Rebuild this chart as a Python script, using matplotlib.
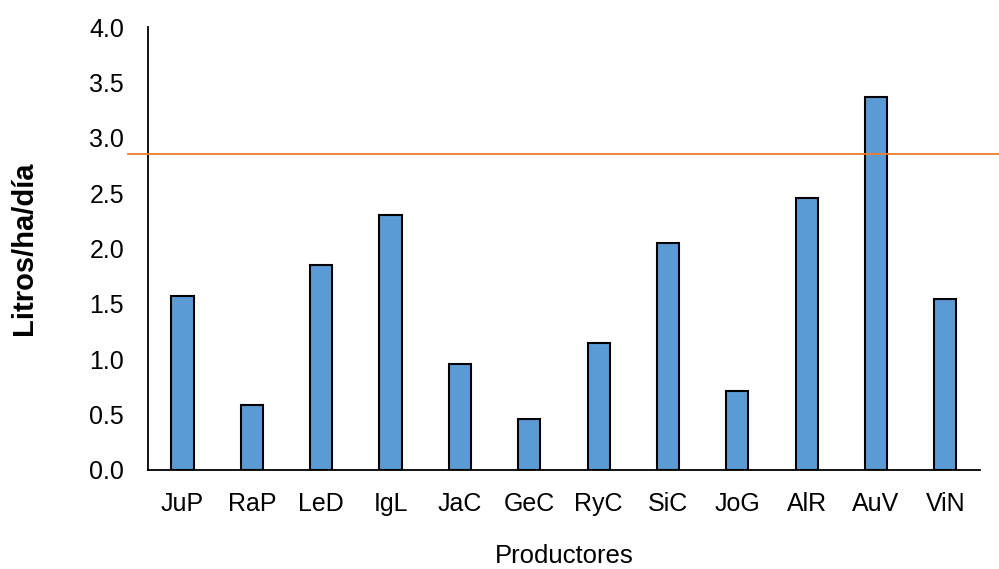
import matplotlib.pyplot as plt

productores = ['JuP', 'RaP', 'LeD', 'IgL', 'JaC', 'GeC', 'RyC', 'SiC', 'JoG', 'AlR', 'AuV', 'ViN']
litros = [1.57, 0.59, 1.85, 2.30, 0.96, 0.46, 1.15, 2.05, 0.71, 2.46, 3.37, 1.54]
promedio = 2.85

plt.rcParams['font.family'] = ['Liberation Sans', 'DejaVu Sans']

fig = plt.figure(figsize=(9.99, 5.69), dpi=100)
ax = fig.add_axes([0.148, 0.174, 0.833, 0.7785])

x = range(len(productores))
ax.bar(x, litros, width=0.32, color='#5B9BD5', edgecolor='black', linewidth=1.5, zorder=2)
ax.axhline(promedio, xmin=-0.024, xmax=1.03, color='#ED7D31', linewidth=1.3, clip_on=False, zorder=3)

ax.set_xlim(-0.5, len(productores) - 0.5)
ax.set_ylim(0, 4.0)
ax.set_yticks([i * 0.5 for i in range(9)])
ax.set_yticklabels(['%.1f' % (i * 0.5) for i in range(9)], fontsize=18)
ax.set_xticks(list(x))
ax.set_xticklabels(productores, fontsize=18)
ax.tick_params(axis='x', length=0, pad=16)
ax.tick_params(axis='y', length=0, pad=17)

for s in ['top', 'right']:
    ax.spines[s].set_visible(False)
for s in ['left', 'bottom']:
    ax.spines[s].set_linewidth(1.3)

ax.set_ylabel('Litros/ha/día', fontsize=21, fontweight='bold', labelpad=37)
ax.set_xlabel('Productores', fontsize=18.5, labelpad=20)

fig.savefig('out.png', dpi=100)
